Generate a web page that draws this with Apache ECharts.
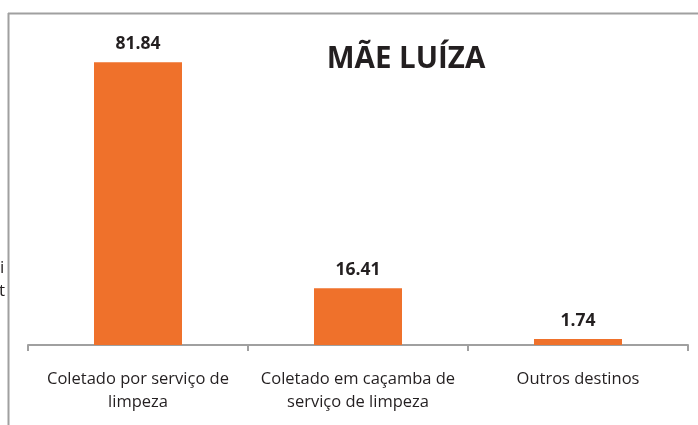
<!DOCTYPE html>
<html>
<head>
<meta charset="utf-8">
<script src="https://cdn.jsdelivr.net/npm/echarts@6/dist/echarts.min.js"></script>
<style>
  html, body { margin: 0; padding: 0; background: #fff; }
  #chart { width: 698px; height: 425px; }
</style>
</head>
<body>
<div id="chart"></div>
<script>
// dados do gráfico
var categorias = ['Coletado por serviço de\nlimpeza', 'Coletado em caçamba de\nserviço de limpeza', 'Outros destinos'];
var valores = [81.84, 16.41, 1.74];
var titulo = 'MÃE LUÍZA';

var myChart = echarts.init(document.getElementById('chart'));

var option = {
  animation: false,
  title: {
    text: titulo,
    left: 401,
    top: 40,
    textAlign: 'center',
    textStyle: {
      fontFamily: 'Open Sans',
      fontWeight: 'bold',
      fontSize: 29.5,
      color: '#231f20'
    }
  },
  grid: {
    left: 28,
    right: 10,
    top: 34,
    bottom: 80
  },
  xAxis: {
    type: 'category',
    data: categorias,
    axisLine: { lineStyle: { color: '#a0a0a0', width: 2 } },
    axisTick: { show: true, length: 6, lineStyle: { color: '#a0a0a0', width: 2 } },
    axisLabel: {
      interval: 0,
      color: '#231f20',
      fontFamily: 'Open Sans',
      fontSize: 16.5,
      lineHeight: 23,
      margin: 23
    }
  },
  yAxis: {
    type: 'value',
    min: 0,
    max: 90,
    show: false
  },
  series: [
    {
      type: 'bar',
      data: valores,
      barWidth: '40%',
      itemStyle: { color: '#ef712b' },
      label: {
        show: true,
        position: 'top',
        distance: 9,
        color: '#231f20',
        fontFamily: 'Open Sans',
        fontWeight: 'bold',
        fontSize: 17.5,
        formatter: function (p) { return p.value.toFixed(2); }
      }
    }
  ],
  graphic: [
    // moldura (linha superior e esquerda)
    { type: 'line', shape: { x1: 8, y1: 13.5, x2: 698, y2: 13.5 }, style: { stroke: '#a0a0a0', lineWidth: 2 } },
    { type: 'line', shape: { x1: 8.5, y1: 13, x2: 8.5, y2: 425 }, style: { stroke: '#a0a0a0', lineWidth: 2 } },
    // texto cortado à esquerda
    { type: 'text', left: 0, top: 260, style: { text: 'i', fontFamily: 'Open Sans', fontSize: 17, fill: '#231f20' } },
    { type: 'text', left: -1, top: 283, style: { text: 't', fontFamily: 'Open Sans', fontSize: 17, fill: '#231f20' } }
  ]
};

myChart.setOption(option);
</script>
</body>
</html>
